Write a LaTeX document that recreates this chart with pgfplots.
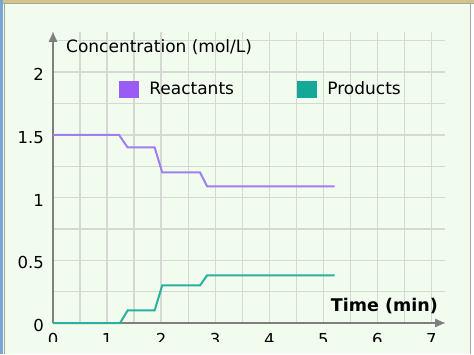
\documentclass[border=0pt]{standalone}
\usepackage{fontspec}
\setmainfont{DejaVu Sans}
\usepackage{pgfplots}
\pgfplotsset{compat=1.18}
\usetikzlibrary{arrows.meta}
\definecolor{bg}{HTML}{F1FCEF}
\definecolor{gridgray}{HTML}{D6D9D3}
\definecolor{axisgray}{HTML}{7F7F7F}
\definecolor{react}{HTML}{9F7FEF}
\definecolor{prod}{HTML}{2BB0A0}
\definecolor{legreact}{HTML}{9A5CF5}
\definecolor{legprod}{HTML}{14A898}
\definecolor{topstrip}{HTML}{D4C488}
\definecolor{leftstrip}{HTML}{7AA6D6}
\begin{document}
\begin{tikzpicture}[x=1pt,y=1pt]
\clip (0,0) rectangle (474,354);
\fill[bg] (0,0) rectangle (474,354);
\begin{axis}[
  at={(53pt,31pt)}, anchor=south west,
  scale only axis, width=392pt, height=291pt,
  xmin=0, xmax=7.25, ymin=0, ymax=2.32,
  axis lines=left,
  axis line style={draw=axisgray, line width=2.6pt, -{Triangle[length=10pt,width=8pt]}},
  xtick={0,1,2,3,4,5,6,7}, ytick={0,0.5,1,1.5,2},
  minor xtick={0.5,1.5,2.5,3.5,4.5,5.5,6.5},
  minor ytick={0.25,0.75,1.25,1.75,2.25},
  grid=both, grid style={draw=gridgray, line width=1.3pt},
  major grid style={draw=gridgray, line width=1.3pt},
  minor grid style={draw=gridgray, line width=1.3pt},
  major tick length=0pt, minor tick length=0pt,
  tick label style={font=\fontsize{16.5}{16.5}\selectfont, inner sep=0pt},
  xticklabel style={anchor=north, yshift=-10pt},
  yticklabel style={anchor=east, xshift=-9pt, yshift=-2.5pt},
  /pgf/number format/assume math mode=true,
  clip=false,
  legend columns=2,
  legend style={at={(axis cs:1.22,1.93)}, anchor=north west, draw=none, fill=none,
    inner sep=0pt, outer sep=0pt, font=\fontsize{17}{17}\selectfont,
    nodes={inner sep=0pt},
    /tikz/every odd column/.append style={column sep=11pt},
    /tikz/every even column/.append style={column sep=63pt}},
]
\addlegendimage{legend image code/.code={\fill[legreact] (0pt,-8pt) rectangle (19pt,8pt);}}
\addlegendentry{Reactants}
\addlegendimage{legend image code/.code={\fill[legprod] (0pt,-8pt) rectangle (19pt,8pt);}}
\addlegendentry{Products}
\addplot[draw=react, line width=2pt, forget plot] coordinates {
 (0,1.5) (1.22,1.5) (1.38,1.4) (1.88,1.4) (2.02,1.2) (2.72,1.2) (2.85,1.09) (5.21,1.09)};
\addplot[draw=prod, line width=2pt, forget plot] coordinates {
 (0,0) (1.24,0) (1.38,0.1) (1.88,0.1) (2.02,0.3) (2.72,0.3) (2.85,0.38) (5.21,0.38)};
\end{axis}
\node[anchor=base west, inner sep=0pt, font=\fontsize{17}{17}\selectfont] at (66,301) {Concentration (mol/L)};
\node[anchor=base east, inner sep=0pt, font=\fontsize{17.5}{17.5}\selectfont\bfseries] at (438,43) {Time (min)};
% bottom cover, as in the reference
\fill[bg] (0,0) rectangle (474,12);
% frame
\fill[topstrip] (0,351) rectangle (474,354);
\draw[axisgray!70, line width=1pt] (0,350) -- (474,350);
\fill[leftstrip] (0,0) rectangle (3,354);
\draw[axisgray!70, line width=1pt] (4,0) -- (4,350);
\fill[white] (471,0) rectangle (474,350);
\draw[axisgray!70, line width=1pt] (470.5,0) -- (470.5,350);
\end{tikzpicture}
\end{document}
